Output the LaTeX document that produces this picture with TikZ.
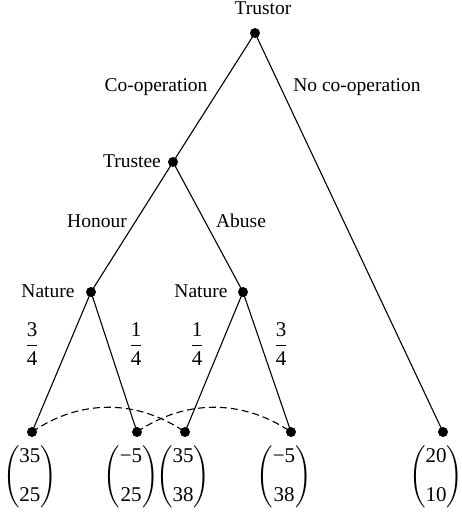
\documentclass[tikz,border=0pt]{standalone}
\usepackage{amsmath}
\usepackage{fontspec}
\setmainfont{Liberation Serif}
\newcommand{\payoff}[2]{$\left(\begin{tabular}{@{}c@{}}#1\\[14pt]#2\end{tabular}\right)$}
\newcommand{\prob}[2]{$\dfrac{\textrm{#1}}{\textrm{#2}}$}
\begin{document}
\begin{tikzpicture}[x=1pt,y=-1pt,font=\fontsize{19.5}{23}\selectfont]
\useasboundingbox (0,0) rectangle (462,515);
\tikzset{
  dot/.style={circle,fill,inner sep=0pt,minimum size=10pt},
  lbl/.style={inner sep=0pt,anchor=base},
  num/.style={inner sep=0pt,font=\fontsize{21}{25}\selectfont},
  branch/.style={line width=1.1pt},
  info/.style={line width=1.1pt,dash pattern=on 7pt off 4pt}
}
% decision and chance nodes
\node[dot] (tr) at (255,33) {};
\node[dot] (te) at (173,162) {};
\node[dot] (n1) at (91,292) {};
\node[dot] (n2) at (243,292) {};
% terminal nodes
\node[dot] (l1) at (32,432) {};
\node[dot] (l2) at (137,432) {};
\node[dot] (l3) at (185,432) {};
\node[dot] (l4) at (291,432) {};
\node[dot] (l5) at (443,432) {};
% branches
\draw[branch] (tr.center) -- (te.center);
\draw[branch] (tr.center) -- (l5.center);
\draw[branch] (te.center) -- (n1.center);
\draw[branch] (te.center) -- (n2.center);
\draw[branch] (n1.center) -- (l1.center);
\draw[branch] (n1.center) -- (l2.center);
\draw[branch] (n2.center) -- (l3.center);
\draw[branch] (n2.center) -- (l4.center);
% information sets
\draw[info] (l1.center) .. controls (80,399) and (137,399) .. (l3.center);
\draw[info] (l2.center) .. controls (185,399) and (243,399) .. (l4.center);
% player and action labels
\node[lbl] (ltr) at (263,14) {Trustor};
\node[lbl] (lte) at (132,167) {Trustee};
\node[lbl] (ln1) at (48,297) {Nature};
\node[lbl] (ln2) at (201,297) {Nature};
\node[lbl] (lco) at (156,91) {Co-operation};
\node[lbl] (lnc) at (357,91) {No co-operation};
\node[lbl] (lho) at (97,227) {Honour};
\node[lbl] (lab) at (241,227) {Abuse};
% probabilities
\node[num] (p1) at (32,344) {\prob{3}{4}};
\node[num] (p2) at (136,344) {\prob{1}{4}};
\node[num] (p3) at (197,344) {\prob{1}{4}};
\node[num] (p4) at (281,344) {\prob{3}{4}};
% payoffs
\node[num] (v1) at (30,477) {\payoff{35}{25}};
\node[num] (v2) at (131,477) {\payoff{−5}{25}};
\node[num] (v3) at (183,477) {\payoff{35}{38}};
\node[num] (v4) at (284,477) {\payoff{−5}{38}};
\node[num] (v5) at (436,477) {\payoff{20}{10}};
\end{tikzpicture}
\end{document}
